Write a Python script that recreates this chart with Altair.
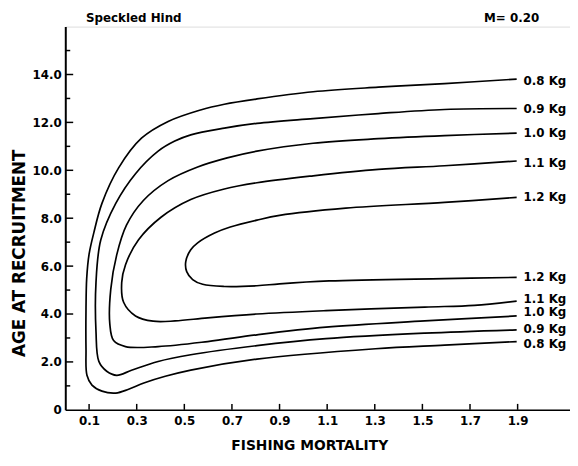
import altair as alt
import pandas as pd

# ---- data (F = fishing mortality, A = age at recruitment) ----
levels = ["0.8 Kg", "0.9 Kg", "1.0 Kg", "1.1 Kg", "1.2 Kg"]

f_08 = [1.896, 1.593, 1.315, 1.041, 0.805, 0.668, 0.568, 0.432, 0.320, 0.224, 0.154, 0.120, 0.100,
        0.090, 0.087, 0.087, 0.091, 0.112, 0.154, 0.212, 0.266, 0.330, 0.420, 0.527, 0.805, 1.303,
        1.593, 1.896]
a_08 = [13.81, 13.62, 13.47, 13.28, 12.98, 12.76, 12.52, 12.04, 11.34, 10.10, 8.62, 7.40, 6.50,
        5.50, 4.20, 2.56, 1.44, 1.03, 0.78, 0.70, 0.86, 1.12, 1.40, 1.66, 2.12, 2.55,
        2.70, 2.85]

f_09 = [1.896, 1.593, 1.315, 1.041, 0.805, 0.668, 0.527, 0.460, 0.390, 0.295, 0.212, 0.149, 0.129,
        0.129, 0.141, 0.174, 0.216, 0.278, 0.390, 0.527, 0.805, 1.095, 1.510, 1.896]
a_09 = [12.58, 12.54, 12.37, 12.16, 11.96, 11.76, 11.48, 11.22, 10.80, 9.86, 8.62, 7.09, 5.32,
        3.26, 2.02, 1.61, 1.44, 1.65, 2.02, 2.30, 2.68, 2.97, 3.20, 3.34]

f_10 = [1.896, 1.593, 1.315, 1.041, 0.805, 0.680, 0.556, 0.432, 0.328, 0.257, 0.216, 0.191, 0.187,
        0.203, 0.253, 0.390, 0.598, 0.805, 1.095, 1.510, 1.896]
a_10 = [11.55, 11.45, 11.32, 11.13, 10.80, 10.52, 10.14, 9.57, 8.74, 7.71, 6.47, 5.03, 3.59,
        2.89, 2.64, 2.64, 2.85, 3.13, 3.45, 3.71, 3.92]

f_11 = [1.896, 1.593, 1.315, 1.041, 0.805, 0.668, 0.527, 0.402, 0.307, 0.253, 0.237, 0.245, 0.295,
        0.369, 0.461, 0.598, 0.805, 1.095, 1.510, 1.718, 1.896]
a_11 = [10.39, 10.19, 10.04, 9.77, 9.48, 9.22, 8.78, 8.04, 7.09, 6.06, 5.32, 4.49, 3.92,
        3.70, 3.71, 3.84, 4.00, 4.14, 4.29, 4.36, 4.54]

f_12 = [1.896, 1.593, 1.178, 0.900, 0.805, 0.693, 0.627, 0.556, 0.527, 0.506, 0.510, 0.535, 0.577,
        0.668, 0.805, 0.900, 1.108, 1.593, 1.896]
a_12 = [8.87, 8.66, 8.42, 8.12, 7.92, 7.63, 7.38, 6.97, 6.68, 6.19, 5.77, 5.44, 5.24,
        5.15, 5.18, 5.26, 5.38, 5.48, 5.53]

# end labels (upper branch ends, then lower branch ends)
label_text = ["0.8 Kg", "0.9 Kg", "1.0 Kg", "1.1 Kg", "1.2 Kg",
              "1.2 Kg", "1.1 Kg", "1.0 Kg", "0.9 Kg", "0.8 Kg"]
label_f = [1.9] * 10
label_a = [13.73, 12.54, 11.55, 10.31, 8.87, 5.53, 4.62, 4.08, 3.38, 2.76]

x_ticks = [0.1, 0.3, 0.5, 0.7, 0.9, 1.1, 1.3, 1.5, 1.7, 1.9]
y_ticks = [0, 2, 4, 6, 8, 10, 12, 14]
y_minor = [1, 3, 5, 7, 9, 11, 13, 15]

# ---- tables ----
rows = []
for lev, fs, ags in zip(levels, [f_08, f_09, f_10, f_11, f_12], [a_08, a_09, a_10, a_11, a_12]):
    for i, (f, a) in enumerate(zip(fs, ags)):
        rows.append({"level": lev, "order": i, "F": f, "A": a})
curves = pd.DataFrame(rows)
labels = pd.DataFrame({"text": label_text, "F": label_f, "A": label_a})
xt = pd.DataFrame({"v": x_ticks})
yt = pd.DataFrame({"v": y_ticks[1:]})
ym = pd.DataFrame({"v": y_minor})

FONT = "DejaVu Sans"
W, H = 511, 388

xscale = alt.Scale(domain=[0, 2.12], nice=False, zero=False)
yscale = alt.Scale(domain=[0, 16], nice=False)

xaxis = alt.Axis(values=x_ticks, format=".1f", grid=False, tickSize=0, labelPadding=6,
                 labelFont=FONT, labelFontWeight="bold", labelFontSize=12, labelColor="black",
                 domainColor="black", domainWidth=1.6,
                 title="FISHING  MORTALITY", titleFont=FONT, titleFontWeight="bold",
                 titleFontSize=14, titleColor="black", titleX=247, titleY=36,
                 titleAlign="center", titleBaseline="middle")
yaxis = alt.Axis(values=y_ticks, grid=False, tickSize=0, labelPadding=4,
                 labelExpr="datum.value == 0 ? '0' : format(datum.value, '.1f')",
                 labelFont=FONT, labelFontWeight="bold", labelFontSize=12, labelColor="black",
                 domainColor="black", domainWidth=2,
                 title="AGE AT RECRUITMENT", titleFont=FONT, titleFontWeight="bold",
                 titleFontSize=17, titleColor="black", titleAngle=270, titleX=-46, titleY=229,
                 titleAlign="center", titleBaseline="middle")

lines = alt.Chart(curves).mark_line(color="black", strokeWidth=1.7, interpolate="catmull-rom").encode(
    x=alt.X("F:Q", scale=xscale, axis=xaxis),
    y=alt.Y("A:Q", scale=yscale, axis=yaxis),
    detail="level:N",
    order="order:Q",
)

texts = alt.Chart(labels).mark_text(align="left", baseline="middle", dx=6, font=FONT,
                                     fontWeight="bold", fontSize=12, color="black").encode(
    x=alt.X("F:Q", scale=xscale), y=alt.Y("A:Q", scale=yscale), text="text:N")

xtick_marks = alt.Chart(xt).mark_rule(color="black", strokeWidth=1.5).encode(
    x=alt.X("v:Q", scale=xscale), y=alt.value(H), y2=alt.value(H - 6))
ytick_marks = alt.Chart(yt).mark_rule(color="black", strokeWidth=1.5).encode(
    y=alt.Y("v:Q", scale=yscale), x=alt.value(0), x2=alt.value(8))
yminor_marks = alt.Chart(ym).mark_rule(color="black", strokeWidth=1.5).encode(
    y=alt.Y("v:Q", scale=yscale), x=alt.value(0), x2=alt.value(5))

title_l = alt.Chart(pd.DataFrame({"t": ["Speckled Hind"]})).mark_text(
    align="left", baseline="middle", font=FONT, fontWeight="bold", fontSize=12, color="black"
).encode(x=alt.value(21), y=alt.value(-9), text="t:N")
title_r = alt.Chart(pd.DataFrame({"t": ["M= 0.20"]})).mark_text(
    align="left", baseline="middle", font=FONT, fontWeight="bold", fontSize=12, color="black"
).encode(x=alt.value(424), y=alt.value(-9), text="t:N")

chart = alt.layer(lines, texts, xtick_marks, ytick_marks, yminor_marks, title_l, title_r).properties(
    width=W, height=H,
    autosize=alt.AutoSizeParams(type="none"),
    padding={"left": 58, "top": 16, "right": 0, "bottom": 50},
).configure_view(stroke=None).configure(background="white")

chart.save("out.html", embed_options={"renderer": "svg", "actions": False})
